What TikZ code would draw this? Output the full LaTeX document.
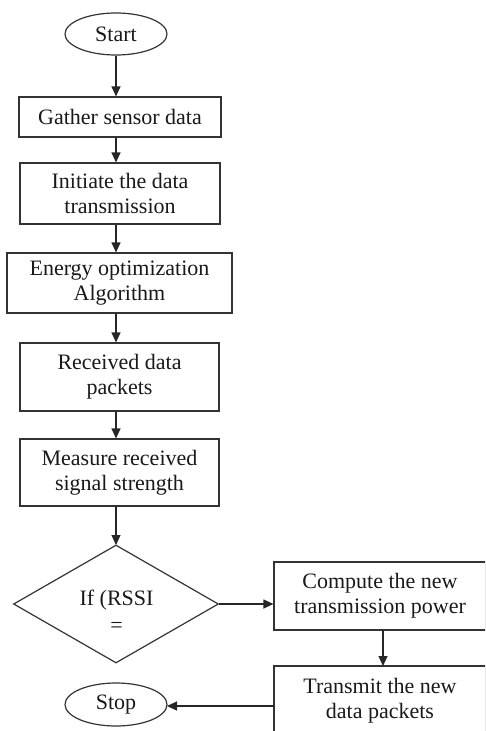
\documentclass[tikz,border=0pt]{standalone}
\usepackage{fontspec}
\setmainfont{Liberation Serif}
\usetikzlibrary{shapes.geometric,arrows.meta,calc}
\begin{document}
\begin{tikzpicture}[x=1pt,y=-1pt,
  every node/.style={font=\fontsize{22}{25}\selectfont, text=black!90, align=center, inner sep=0pt},
  boxnode/.style={draw=black!80, line width=1.2pt, rectangle},
  termnode/.style={draw=black!80, line width=1.2pt, ellipse},
  decnode/.style={draw=black!80, line width=1.2pt, diamond},
  arr/.style={draw=black!85, line width=1.2pt, -{Triangle[length=10pt,width=9pt]}}]
\useasboundingbox (0,0) rectangle (485,731);
\clip (0,0) rectangle (485,731);
\node[termnode, minimum width=102pt, minimum height=42pt] (start) at (116,34) {Start};
\node[boxnode, minimum width=202pt, minimum height=40pt] (gather) at (120,117) {Gather sensor data};
\node[boxnode, minimum width=200pt, minimum height=61pt] (init) at (120,193.5) {Initiate the data\\transmission};
\node[boxnode, minimum width=225pt, minimum height=60pt] (energy) at (119.5,283) {Energy optimization\\Algorithm};
\node[boxnode, minimum width=199pt, minimum height=68pt] (recv) at (119.5,377) {Received data\\packets};
\node[boxnode, minimum width=199pt, minimum height=67pt] (meas) at (119.5,472.5) {Measure received\\signal strength};
\node[decnode, minimum width=205pt, minimum height=118pt] (dec) at (116,604) {};
\node (dectext) at (116.5,611) {If (RSSI\\[2pt]=};
\node[boxnode, minimum width=212pt, minimum height=68pt] (comp) at (380,596) {Compute the new\\transmission power};
\node[boxnode, minimum width=212pt, minimum height=70pt] (trans) at (380,701) {Transmit the new\\data packets};
\node[termnode, minimum width=102pt, minimum height=43pt] (stop) at (116,704.5) {Stop};
\coordinate (c1) at (383,630);
\coordinate (c2) at (383,666);
\coordinate (s1) at (274,706);
\coordinate (s2) at (167,706);
\coordinate (m1) at (116,506);
\coordinate (d1) at (116,545);
\draw[arr] (start.south) -- (start.south |- gather.north);
\draw[arr] (start.south |- gather.south) -- (start.south |- init.north);
\draw[arr] (start.south |- init.south) -- (start.south |- energy.north);
\draw[arr] (start.south |- energy.south) -- (start.south |- recv.north);
\draw[arr] (start.south |- recv.south) -- (start.south |- meas.north);
\draw[arr] (m1) -- (d1);
\draw[arr] (dec.east) -- (dec.east -| comp.west);
\draw[arr] (c1) -- (c2);
\draw[arr] (s1) -- (s2);
\end{tikzpicture}
\end{document}
